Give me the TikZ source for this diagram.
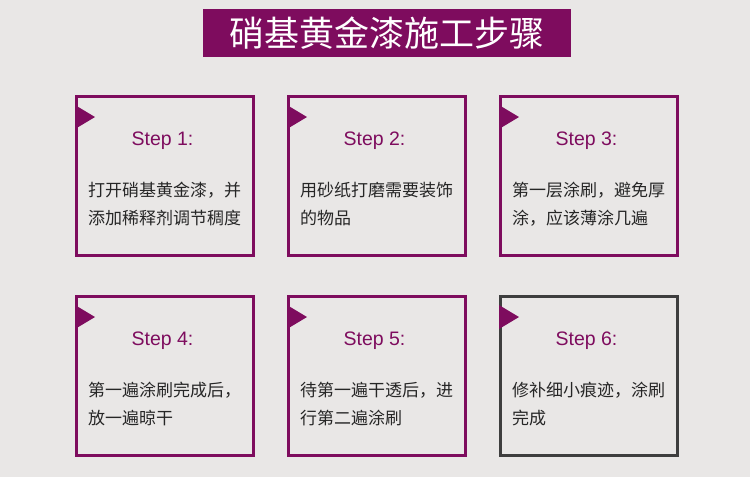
\documentclass[tikz,border=0pt]{standalone}
\usepackage{fontspec}
\setmainfont{Liberation Sans}
\newfontfamily\cjk{Noto Sans CJK SC}
\definecolor{plum}{HTML}{7E0C5E}
\definecolor{bg}{HTML}{E9E7E6}
\definecolor{darkb}{HTML}{3E3E3E}
\begin{document}
\begin{tikzpicture}[x=1pt,y=-1pt,
  stepbox/.style={draw=plum,line width=3pt,fill=bg,minimum width=177pt,minimum height=159pt,anchor=north west,inner sep=0pt,outer sep=0pt},
  steplabel/.style={text=plum,font=\fontsize{19.5}{22}\selectfont},
  bodytext/.style={anchor=north west,align=left,text=black!85,font=\cjk\fontsize{17}{28}\selectfont,inner sep=0pt},
  flag/.style={fill=plum}]
\fill[bg] (0,0) rectangle (750,477);
\useasboundingbox (0,0) rectangle (750,477);
\node[fill=plum,minimum width=368pt,minimum height=48pt,anchor=north west,inner sep=0pt,outer sep=0pt] (title) at (203,9) {};
\node[text=white,font=\cjk\fontsize{35}{38}\selectfont] (titletext) at (title.center) {硝基黄金漆施工步骤};
\foreach \i/\x/\y/\lab/\body/\col in {
  1/76.5/96.5/{Step 1:}/{打开硝基黄金漆，并\\添加稀释剂调节稠度}/plum,
  2/288.5/96.5/{Step 2:}/{用砂纸打磨需要装饰\\的物品}/plum,
  3/500.5/96.5/{Step 3:}/{第一层涂刷，避免厚\\涂，应该薄涂几遍}/plum,
  4/76.5/296.5/{Step 4:}/{第一遍涂刷完成后，\\放一遍晾干}/plum,
  5/288.5/296.5/{Step 5:}/{待第一遍干透后，进\\行第二遍涂刷}/plum,
  6/500.5/296.5/{Step 6:}/{修补细小痕迹，涂刷\\完成}/darkb}{
  \node[stepbox,draw=\col] (box\i) at (\x,\y) {};
  \fill[flag] (box\i.north west) ++(-1.5,8.5) -- ++(20,12) -- ++(-20,12) -- cycle;
  \node[steplabel] (lab\i) at ([xshift=-2.5,yshift=-44]box\i.north) {\lab};
  \node[bodytext] (body\i) at ([xshift=11.5,yshift=-85]box\i.north west) {\body};
}
\end{tikzpicture}
\end{document}
